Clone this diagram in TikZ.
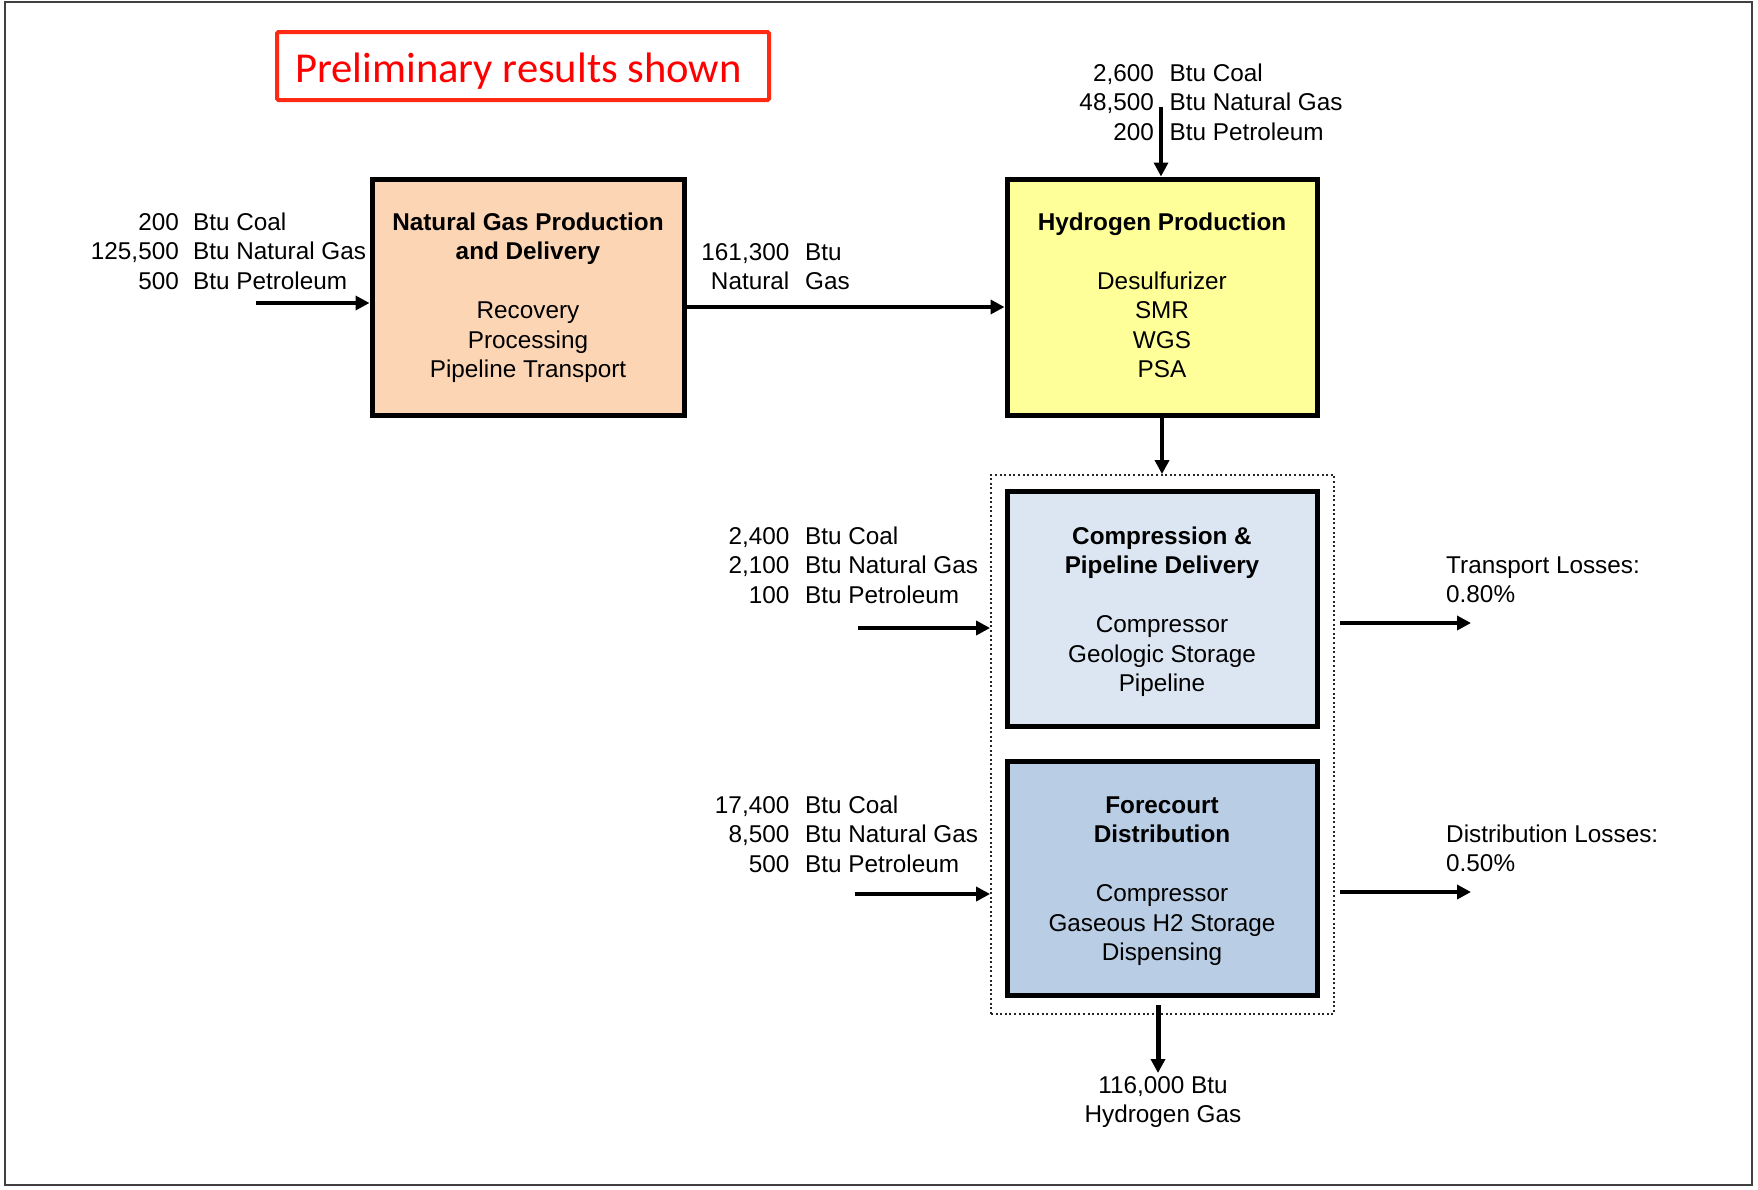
\documentclass[tikz,border=0pt]{standalone}
\usepackage{fontspec}
\setmainfont{Liberation Sans}
\newfontfamily\carlito{Carlito}
\usetikzlibrary{arrows.meta,calc}
\definecolor{peach}{HTML}{FCD5B5}
\definecolor{hyellow}{HTML}{FFFF99}
\definecolor{lblue}{HTML}{DCE6F2}
\definecolor{mblue}{HTML}{B9CDE5}
\definecolor{redbox}{HTML}{FF2A14}
\begin{document}
\begin{tikzpicture}[x=1pt,y=-1pt,
  every node/.style={font=\fontsize{24.3}{29.5}\selectfont, inner sep=0pt},
  procbox/.style={draw=black, line width=5pt},
  arr/.style={line width=4.8pt, -{Triangle[length=14pt,width=14pt]}},
  ]
\useasboundingbox (0,0) rectangle (1758,1189);
\draw[black!75, line width=2pt] (5,1.5) rectangle (1752,1185);

% red note
\node[draw=redbox, line width=4pt, rounded corners=1.5pt, minimum width=492pt, minimum height=68pt] (prelim) at (523,66) {};
\node[anchor=base, font=\carlito\fontsize{42.6}{50}\selectfont, text=red] (prelimt) at (518.5,82) {Preliminary results shown};

% boxes
\node[procbox, fill=peach, minimum width=312pt, minimum height=236pt] (ng) at (528,297) {};
\node[procbox, fill=hyellow, minimum width=310pt, minimum height=236pt] (h2) at (1162,297) {};
\node[draw=black!85, line width=1.8pt, dash pattern=on 2pt off 2.6pt, minimum width=343pt, minimum height=539pt] (dot) at (1162.5,744.5) {};
\node[procbox, fill=lblue, minimum width=310pt, minimum height=235pt] (cp) at (1162,609) {};
\node[procbox, fill=mblue, minimum width=310pt, minimum height=234pt] (fc) at (1162,878.5) {};

% box texts
\node[anchor=base] (ngt) at (528,230) {\begin{tabular}[t]{@{}c@{}}\bfseries Natural Gas Production\\ \bfseries and Delivery\\ \\ Recovery\\ Processing\\ Pipeline Transport\end{tabular}};
\node[anchor=base] (h2t) at (1162,230) {\begin{tabular}[t]{@{}c@{}}\bfseries Hydrogen Production\\ \\ Desulfurizer\\ SMR\\ WGS\\ PSA\end{tabular}};
\node[anchor=base] (cpt) at (1162,544) {\begin{tabular}[t]{@{}c@{}}\bfseries Compression \&\\ \bfseries Pipeline Delivery\\ \\ Compressor\\ Geologic Storage\\ Pipeline\end{tabular}};
\node[anchor=base] (fct) at (1162,813) {\begin{tabular}[t]{@{}c@{}}\bfseries Forecourt\\ \bfseries Distribution\\ \\ Compressor\\ Gaseous H2 Storage\\ Dispensing\end{tabular}};

% input labels
\node[anchor=base east] (in1n) at (179,230) {\begin{tabular}[t]{@{}r@{}}200\\125,500\\500\end{tabular}};
\node[anchor=base west] (in1l) at (193,230) {\begin{tabular}[t]{@{}l@{}}Btu Coal\\Btu Natural Gas\\Btu Petroleum\end{tabular}};
\node[anchor=base east] (in2n) at (1154,81) {\begin{tabular}[t]{@{}r@{}}2,600\\48,500\\200\end{tabular}};
\node[anchor=base west] (in2l) at (1169.5,81) {\begin{tabular}[t]{@{}l@{}}Btu Coal\\Btu Natural Gas\\Btu Petroleum\end{tabular}};
\node[anchor=base east] (ngon) at (789.5,260) {\begin{tabular}[t]{@{}r@{}}161,300\\Natural\end{tabular}};
\node[anchor=base west] (ngol) at (805,260) {\begin{tabular}[t]{@{}l@{}}Btu\\Gas\end{tabular}};
\node[anchor=base east] (in3n) at (789.5,544) {\begin{tabular}[t]{@{}r@{}}2,400\\2,100\\100\end{tabular}};
\node[anchor=base west] (in3l) at (805,544) {\begin{tabular}[t]{@{}l@{}}Btu Coal\\Btu Natural Gas\\Btu Petroleum\end{tabular}};
\node[anchor=base east] (in4n) at (789.5,813) {\begin{tabular}[t]{@{}r@{}}17,400\\8,500\\500\end{tabular}};
\node[anchor=base west] (in4l) at (805,813) {\begin{tabular}[t]{@{}l@{}}Btu Coal\\Btu Natural Gas\\Btu Petroleum\end{tabular}};
\node[anchor=base west] (tlt) at (1446,573) {\begin{tabular}[t]{@{}l@{}}Transport Losses:\\0.80\%\end{tabular}};
\node[anchor=base west] (dlt) at (1446,842) {\begin{tabular}[t]{@{}l@{}}Distribution Losses:\\0.50\%\end{tabular}};
\node[anchor=base] (outt) at (1163,1093) {\begin{tabular}[t]{@{}c@{}}116,000 Btu\\Hydrogen Gas\end{tabular}};

% arrows
\coordinate (s1) at (256,303);
\draw[arr] (s1) -- (s1 -| ng.west);
\coordinate (ngh) at (700,307);
\draw[arr] (ng.east |- ngh) -- (h2.west |- ngh);
\coordinate (h2in) at (1161,107);
\draw[arr, line width=3.3pt] (h2in) -- (h2in |- h2.north);
\draw[arr] (h2.south) -- (h2.south |- dot.north);
\coordinate (cpin) at (858,628);
\draw[arr] (cpin) -- (cpin -| dot.west);
\coordinate (tl) at (1471,623);
\draw[arr] ($(dot.east |- tl)+(5,0)$) -- (tl);
\coordinate (fcin) at (855,894);
\draw[arr] (fcin) -- (fcin -| dot.west);
\coordinate (dl) at (1471,892);
\draw[arr] ($(dot.east |- dl)+(5,0)$) -- (dl);
\coordinate (outend) at (1158,1073);
\draw[arr, line width=5pt] ($(fc.south -| outend)+(0,7)$) -- (outend);
\end{tikzpicture}
\end{document}
